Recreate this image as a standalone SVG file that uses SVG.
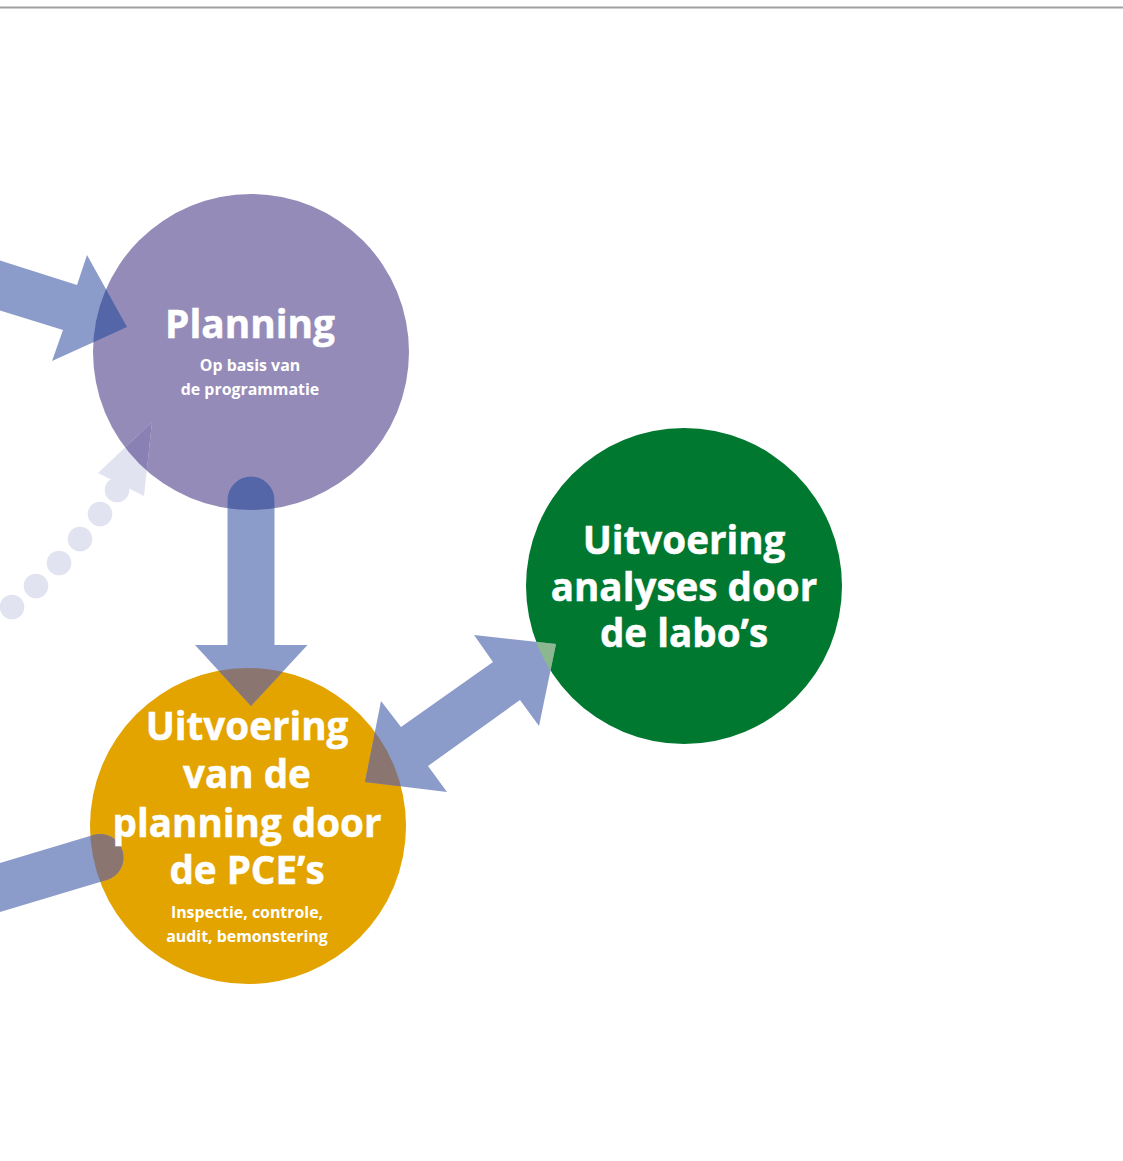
<svg xmlns="http://www.w3.org/2000/svg" width="1123" height="1161" viewBox="0 0 1123 1161">
<style>
.big{font-family:"Open Sans","Liberation Sans",sans-serif;font-weight:700;font-size:38.6px;fill:#fff;text-anchor:middle;stroke:#fff;stroke-width:0.5px}
.small{font-family:"Open Sans","Liberation Sans",sans-serif;font-weight:700;font-size:15.9px;fill:#fff;text-anchor:middle}
.arrow{fill:#8c9cca}
.dot{fill:#e1e3f0}
</style>
<defs>
<polygon id="aTL" points="-5,259 77,285 87,255 127,327 52,361 63,330 -5,309"/>
<path id="aDown" d="M227.5,500 A23.5,23.5 0 0 1 274.5,500 L274.5,645 L307.5,645 L251,706 L195,645 L227.5,645 Z"/>
<polygon id="aBoth" points="474,635 556,644 539,726 520,700 428,766 447,792 365,782 381,701 401,727 493,662"/>
<polygon id="aDotHead" points="98,473 144,496 152,422"/>
<clipPath id="cpP"><circle cx="251" cy="352" r="158"/></clipPath>
<clipPath id="cpO"><circle cx="248" cy="826" r="158"/></clipPath>
<clipPath id="cpG"><circle cx="684" cy="586" r="158"/></clipPath>
</defs>
<rect width="1123" height="1161" fill="#fff"/>
<line x1="0" y1="7.5" x2="1123" y2="7.5" stroke="#a0a0a0" stroke-width="2"/>

<g id="node-planning">
<circle cx="251" cy="352" r="158" fill="#958bb8"/>
</g>
<g id="node-uitvoering-pce">
<circle cx="248" cy="826" r="158" fill="#e3a400"/>
</g>
<g id="node-labo">
<circle cx="684" cy="586" r="158" fill="#00782f"/>
</g>

<g id="connectors">
<use href="#aTL" class="arrow"/>
<use href="#aDown" class="arrow"/>
<use href="#aBoth" class="arrow"/>
<line x1="-10" y1="890.5" x2="100" y2="857.5" stroke="#8c9cca" stroke-width="47" stroke-linecap="round"/>
<g class="dot">
<circle cx="12" cy="607" r="12.3"/>
<circle cx="36" cy="586" r="12.3"/>
<circle cx="59" cy="563" r="12.3"/>
<circle cx="80" cy="539" r="12.3"/>
<circle cx="100" cy="514" r="12.3"/>
<circle cx="117" cy="490" r="12.3"/>
<use href="#aDotHead"/>
</g>
<g clip-path="url(#cpP)">
<use href="#aTL" fill="#5566a8"/>
<use href="#aDown" fill="#5566a8"/>
<use href="#aDotHead" fill="#8980b4"/>
</g>
<g clip-path="url(#cpO)">
<use href="#aDown" fill="#8b7570"/>
<use href="#aBoth" fill="#8b7570"/>
<line x1="-10" y1="890.5" x2="100" y2="857.5" stroke="#8b7570" stroke-width="47" stroke-linecap="round"/>
</g>
<g clip-path="url(#cpG)">
<use href="#aBoth" fill="#8cb890"/>
</g>
</g>

<g id="labels-planning">
<text class="big" x="250" y="338" style="font-size:38.8px">Planning</text>
<text class="small" x="250" y="371">Op basis van</text>
<text class="small" x="250" y="395">de programmatie</text>
</g>
<g id="labels-labo">
<text class="big" x="684" y="554">Uitvoering</text>
<text class="big" x="684" y="601">analyses door</text>
<text class="big" x="684" y="647">de labo’s</text>
</g>
<g id="labels-pce">
<text class="big" x="247" y="740">Uitvoering</text>
<text class="big" x="247" y="788">van de</text>
<text class="big" x="247" y="837">planning door</text>
<text class="big" x="247" y="884">de PCE’s</text>
<text class="small" x="247" y="918">Inspectie, controle,</text>
<text class="small" x="247" y="942">audit, bemonstering</text>
</g>
</svg>
